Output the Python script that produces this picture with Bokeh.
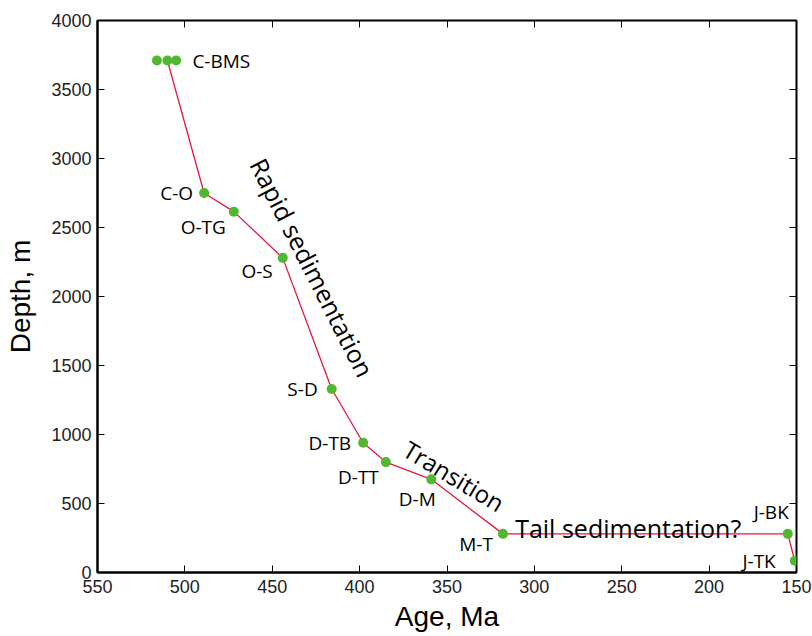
import math
from bokeh.plotting import figure
from bokeh.models import (Range1d, LinearAxis, FixedTicker, ColumnDataSource,
                          CustomJSTickFormatter)
from bokeh.core.properties import value
from bokeh.embed import file_html
from bokeh.resources import INLINE

# ---- data ----
labels = ["C-BMS", "C-O", "O-TG", "O-S", "S-D", "D-TB", "D-TT", "D-M", "M-T", "J-BK", "J-TK"]
ages = [510, 489, 472, 444, 416, 398, 385, 359, 318, 155, 151]
depths = [3710, 2750, 2615, 2280, 1330, 940, 800, 675, 280, 280, 85]
extra_ages = [516, 505]
extra_depths = [3710, 3710]
x_ticks = [550, 500, 450, 400, 350, 300, 250, 200, 150]
y_ticks = [0, 500, 1000, 1500, 2000, 2500, 3000, 3500, 4000]
phases = ["Rapid sedimentation", "Transition", "Tail sedimentation?"]
phase_ages = [427, 346, 311]
phase_depths = [2210, 700, 324]

# ---- label styling (pixel offsets / alignment) ----
lab_align = ["left", "right", "right", "right", "right", "right", "right", "center", "right", "right", "right"]
lab_dx = [25, -11, -8, -10, -14, -12, -7, -14, -10, 1, -19]
lab_dy = [0, 0, 15, 13, 0, 0, 15, 20, 10, -22, 0]

LINE = "#e5173b"
DOT = "#4fb82f"

p = figure(frame_width=699, frame_height=552, output_backend="svg", toolbar_location=None,
           x_range=Range1d(550, 150), y_range=Range1d(0, 4000),
           min_border_left=97, min_border_right=16, min_border_top=20, min_border_bottom=64)
p.xgrid.visible = False
p.ygrid.visible = False
p.outline_line_color = "black"
p.outline_line_width = 2
p.outline_line_alpha = 1
p.background_fill_color = "white"
p.border_fill_color = "white"

p.line(ages, depths, line_color=LINE, line_width=1.3)
p.scatter(extra_ages + ages, extra_depths + depths, size=10, fill_color=DOT, line_color=None)

src = ColumnDataSource(dict(x=ages, y=depths, t=labels, a=lab_align, dx=lab_dx, dy=lab_dy))
p.text(x="x", y="y", text="t", source=src, text_align="a", x_offset="dx", y_offset="dy",
       text_baseline="middle", text_font=value("Open Sans"), text_font_size="19px",
       text_color="black")

phase_src = ColumnDataSource(dict(x=phase_ages, y=phase_depths, t=phases,
                                  ang=[-63 * math.pi / 180, -31 * math.pi / 180, 0.0],
                                  al=["center", "center", "left"],
                                  bl=["middle", "middle", "alphabetic"],
                                  fs=["25px", "24px", "25px"]))
p.text(x="x", y="y", text="t", angle="ang", source=phase_src, text_align="al",
       text_baseline="bl", text_font=value("Open Sans"), text_font_size="fs",
       text_color="black")

for ax, lab, ticks in ((p.xaxis[0], "Age, Ma", x_ticks), (p.yaxis[0], "Depth, m", y_ticks)):
    ax.ticker = FixedTicker(ticks=ticks)
    ax.axis_label = lab
    ax.axis_label_text_font = "Liberation Sans"
    ax.axis_label_text_font_size = "28px"
    ax.axis_label_text_font_style = "normal"
    ax.axis_label_text_color = "black"
    ax.major_label_text_font = "Liberation Sans"
    ax.major_label_text_font_size = "18px"
    ax.major_label_text_color = "#222222"
    ax.axis_line_width = 2
    ax.axis_line_color = "black"
    ax.major_tick_in = 7
    ax.major_tick_out = 0
    ax.major_tick_line_color = "black"
    ax.minor_tick_line_color = None
p.xaxis[0].major_label_standoff = 7
p.xaxis[0].axis_label_standoff = 5
p.yaxis[0].major_label_standoff = 6
p.yaxis[0].axis_label_standoff = 12

blank = CustomJSTickFormatter(code="return ''")
top = LinearAxis(ticker=FixedTicker(ticks=x_ticks), formatter=blank, major_tick_in=7,
                 major_tick_out=0, minor_tick_line_color=None, axis_line_color=None,
                 major_label_standoff=0, major_label_text_font_size="0px")
right = LinearAxis(ticker=FixedTicker(ticks=y_ticks), formatter=blank, major_tick_in=7,
                   major_tick_out=0, minor_tick_line_color=None, axis_line_color=None,
                   major_label_standoff=0, major_label_text_font_size="0px")
p.add_layout(top, "above")
p.add_layout(right, "right")

open("out.html", "w").write(file_html(p, INLINE))
